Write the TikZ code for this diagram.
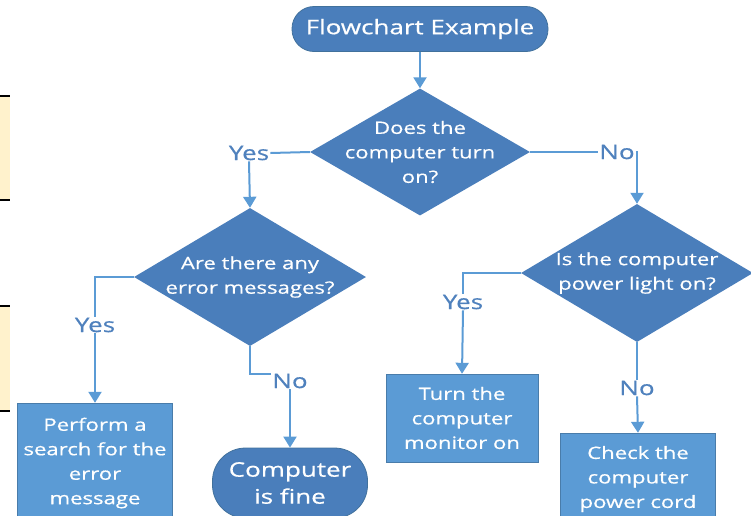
\documentclass[tikz,border=0pt]{standalone}
\usepackage{fontspec}
\setmainfont[FakeStretch=1.3, FakeBold=0.6]{Open Sans}
\usetikzlibrary{shapes.geometric,arrows.meta}
\definecolor{deepblue}{HTML}{4A7EBB}
\definecolor{lightblue}{HTML}{5B9BD5}
\definecolor{edgeblue}{HTML}{41719C}
\definecolor{labelblue}{HTML}{4F81BD}
\definecolor{cream}{HTML}{FFF2CC}
\begin{document}
\begin{tikzpicture}
      [x=1pt, y=-1pt,
      every node/.style={text=white, align=center, font=\fontsize{17}{24.5}\selectfont},
      terminal/.style={rectangle, rounded corners=22pt, fill=deepblue, draw=edgeblue, thick,
        minimum width=256pt, minimum height=45pt},
      decision/.style={diamond, fill=deepblue, inner sep=0pt,
        minimum width=232pt, minimum height=138pt},
      process/.style={rectangle, fill=lightblue, draw=lightblue!80!black, thin,
        minimum width=155pt, minimum height=90pt},
      answer/.style={text=labelblue, inner sep=1pt, font=\fontsize{20}{22}\selectfont},
      link/.style={draw=lightblue, line width=2pt},
      arrow/.style={link, -{Triangle[width=13pt,length=11pt]}},
      ]
      \useasboundingbox (0,0) rectangle (751,515);
      \clip (0,0) rectangle (751,515);
      % side notes cut off at the left
      \fill[cream] (0,96) rectangle (10,200);
      \fill[cream] (0,306) rectangle (10,411);
      \draw[line width=2.5pt] (0,96) -- (10,96) (0,200) -- (10,200);
      \draw[line width=2.5pt] (0,306) -- (10,306) (0,411) -- (10,411);
      % nodes
      \node[terminal, font=\fontsize{20}{22}\selectfont] (start) at (420,29) {Flowchart Example};
      \node[decision, minimum width=220pt, minimum height=127pt,
        label={center:Does the\\computer turn\\on?}] (q1) at (420,152) {};
      \node[decision, label={center:Are there any\\error messages?}] (q2) at (250,277) {};
      \node[decision, label={center:Is the computer\\power light on?}] (q3) at (637,273) {};
      \node[answer] (yes1) at (249,153) {Yes};
      \node[answer] (no1) at (617,152) {No};
      \node[answer] (yes2) at (95,325) {Yes};
      \node[answer] (no2) at (290,381) {No};
      \node[answer] (yes3) at (463,302) {Yes};
      \node[answer] (no3) at (637,388) {No};
      \node[process, minimum height=120pt] (search) at (95,463) {Perform a\\search for the\\error\\message};
      \node[terminal, fill=deepblue, minimum width=155pt, minimum height=70pt, rounded corners=33pt,
        font=\fontsize{20}{27}\selectfont] (fine) at (290,483) {Computer\\is fine};
      \node[process, minimum width=152pt, minimum height=88pt] (monitor) at (462,418) {Turn the\\computer\\monitor on};
      \node[process, minimum height=92pt] (cord) at (638,479) {Check the\\computer\\power cord};
      % connectors
      \draw[arrow] (start) -- (q1.north);
      \draw[link] (q1.west) -- (yes1.east);
      \draw[arrow] (yes1.south) -- (q2.north);
      \draw[link] (q1.east) -- (no1.west);
      \draw[arrow] (no1.east) -| (q3.north);
      \draw[link] (q2.west) -| (yes2.north);
      \draw[arrow] (yes2.south) -- (search.north);
      \draw[link] (q2.south) |- ([yshift=7pt]no2.west);
      \draw[arrow] (no2.south) -- (fine.north);
      \draw[link] (q3.west) -| (yes3.north);
      \draw[arrow] (yes3.south) -- (monitor.north);
      \draw[link] (q3.south) -- (no3.north);
      \draw[arrow] (no3.south) -- (cord.north);
\end{tikzpicture}
\end{document}
